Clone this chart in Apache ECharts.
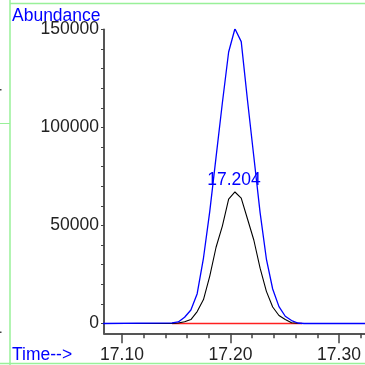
<!DOCTYPE html>
<html>
<head>
<meta charset="utf-8">
<script src="https://cdn.jsdelivr.net/npm/echarts@6/dist/echarts.min.js"></script>
<style>
html,body{margin:0;padding:0;background:#fff;}
#c{width:365px;height:365px;}
</style>
</head>
<body>
<div id="c"></div>
<script>
// ---- data ----
var times = [17.0800, 17.1461, 17.1519, 17.1577, 17.1635, 17.1693, 17.1751, 17.1809, 17.1867, 17.1925, 17.1983, 17.2041, 17.2099, 17.2157, 17.2215, 17.2273, 17.2331, 17.2389, 17.2447, 17.2505, 17.2563, 17.2621, 17.2679, 17.3300];
var blueValues = [0, 300, 800, 3200, 6900, 15200, 33400, 57200, 84900, 112500, 138500, 150400, 143800, 113800, 85200, 56600, 32900, 17600, 8600, 3700, 1500, 250, 0, 0];
var blackValues = [0, 0, 250, 870, 2000, 6100, 12200, 24200, 38900, 49700, 63500, 67100, 64000, 53300, 42600, 28200, 16400, 8400, 4100, 2000, 400, 100, 0, 0];
var baselineTimes = [17.146, 17.266];
var baselineValues = [0, 0];
var peakLabel = '17.204';
var xMajorTicks = [17.10, 17.20, 17.30];
var xMinorTicks = [17.12, 17.14, 17.16, 17.18, 17.22, 17.24, 17.26, 17.28, 17.32];
var yLabels = [0, 50000, 100000, 150000];
var yTicks = [0, 10000, 20000, 30000, 40000, 50000, 60000, 70000, 80000, 90000, 100000, 110000, 120000, 130000, 140000, 150000];

function pairs(xs, ys) { return xs.map(function (x, i) { return [x, ys[i]]; }); }

var peakIdx = blackValues.indexOf(Math.max.apply(null, blackValues));

var FONT = 'Liberation Sans, Arial, sans-serif';
var chart = echarts.init(document.getElementById('c'), null, { renderer: 'canvas' });
var xMin = 17.0834, xMax = 17.324;
chart.setOption({
  animation: false,
  backgroundColor: '#ffffff',
  grid: { left: 104, top: 29.5, right: 0, height: 303.8, containLabel: false },
  xAxis: [{
    type: 'value', min: xMin, max: xMax, position: 'bottom', offset: 0,
    axisLine: { show: true, onZero: false, lineStyle: { color: '#555', width: 2 } },
    axisTick: { show: true, length: 10, customValues: xMajorTicks, lineStyle: { color: '#444', width: 1.5 } },
    axisLabel: { show: true, customValues: xMajorTicks, margin: 13, fontSize: 17.5, color: '#222', fontFamily: FONT,
      formatter: function (v) { return v.toFixed(2); } },
    splitLine: { show: false }
  }, {
    type: 'value', min: xMin, max: xMax, position: 'bottom', offset: 0,
    axisLine: { show: false, onZero: false },
    axisTick: { show: true, length: 5, customValues: xMinorTicks, lineStyle: { color: '#444', width: 1.5 } },
    axisLabel: { show: false },
    splitLine: { show: false }
  }],
  yAxis: [{
    type: 'value', min: -5000, max: 150000, position: 'left',
    axisLine: { show: true, onZero: false, lineStyle: { color: '#555', width: 2 } },
    axisTick: { show: true, length: 3, customValues: yTicks, lineStyle: { color: '#444', width: 1 } },
    axisLabel: { show: true, customValues: yLabels, margin: 5, fontSize: 17.5, color: '#222', fontFamily: FONT,
      formatter: function (v) { return String(v); } },
    splitLine: { show: false }
  }],
  series: [{
    type: 'line', name: 'baseline', data: pairs(baselineTimes, baselineValues), showSymbol: false,
    lineStyle: { color: '#ff2020', width: 1.5 }, z: 2
  }, {
    type: 'line', name: 'black', data: pairs(times, blackValues), showSymbol: false,
    lineStyle: { color: '#000000', width: 1.1 }, z: 3,
    markPoint: {
      symbol: 'circle', symbolSize: 1, itemStyle: { color: 'rgba(0,0,0,0)' },
      label: { show: true, position: 'top', distance: 2, formatter: peakLabel,
        color: '#0000ff', fontSize: 17.5, fontFamily: FONT, offset: [-1, 0] },
      data: [{ coord: [times[peakIdx], blackValues[peakIdx]] }]
    }
  }, {
    type: 'line', name: 'blue', data: pairs(times, blueValues), showSymbol: false,
    lineStyle: { color: '#0000ff', width: 1.3 }, z: 4
  }],
  graphic: [
    { type: 'line', shape: { x1: 10, y1: 0, x2: 10, y2: 365 }, style: { stroke: '#99f099', lineWidth: 1.5 }, silent: true },
    { type: 'line', shape: { x1: 10, y1: 3.5, x2: 365, y2: 3.5 }, style: { stroke: '#99f099', lineWidth: 1.5 }, silent: true },
    { type: 'line', shape: { x1: 0, y1: 363.5, x2: 365, y2: 363.5 }, style: { stroke: '#99f099', lineWidth: 1.5 }, silent: true },
    { type: 'line', shape: { x1: 0, y1: 123.5, x2: 10, y2: 123.5 }, style: { stroke: '#99f099', lineWidth: 1 }, silent: true },
    { type: 'rect', shape: { x: 0, y: 89, width: 1.5, height: 1.5 }, style: { fill: '#444' }, silent: true },
    { type: 'rect', shape: { x: 0, y: 331.5, width: 1.5, height: 1.5 }, style: { fill: '#444' }, silent: true },
    { type: 'text', style: { x: 12, y: 16.5, text: 'Abundance', font: '17.5px ' + FONT, fill: '#0000ff', verticalAlign: 'middle' }, silent: true },
    { type: 'text', style: { x: 12, y: 355, text: 'Time-->', font: '17.5px ' + FONT, fill: '#0000ff', verticalAlign: 'middle' }, silent: true }
  ]
});
</script>
</body>
</html>
